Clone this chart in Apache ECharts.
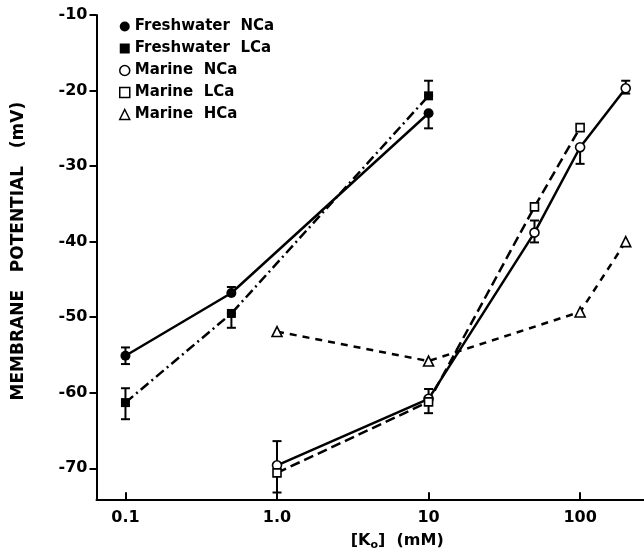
<!DOCTYPE html>
<html><head><meta charset="utf-8">
<script src="https://cdn.jsdelivr.net/npm/echarts@6/dist/echarts.min.js"></script>
<style>html,body{margin:0;padding:0;background:#fff}#c{width:644px;height:556px}</style>
</head><body><div id="c"></div>
<script>
const seriesNames = ['Freshwater  NCa', 'Freshwater  LCa', 'Marine  NCa', 'Marine  LCa', 'Marine  HCa'];
const fwNCa = [[0.1, -55.1], [0.5, -46.8], [10, -23.0]];
const fwLCa = [[0.1, -61.3], [0.5, -49.5], [10, -20.7]];
const mNCa = [[1, -69.6], [10, -60.8], [50, -38.8], [100, -27.5], [200, -19.7]];
const mLCa = [[1, -70.6], [10, -61.2], [50, -35.4], [100, -24.9]];
const mHCa = [[1, -51.9], [10, -55.8], [100, -49.3], [200, -40.0]];
// [x, end1, end2]
const errorBars = [
  [0.1, -54.0, -56.2], [0.5, -46.0, -46.8], [10, -23.0, -25.0],
  [0.1, -59.4, -63.5], [0.5, -49.5, -51.4], [10, -18.7, -20.7],
  [1, -66.4, -73.2], [10, -59.5, -62.7], [50, -37.2, -40.1], [100, -27.5, -29.7], [200, -18.7, -20.4]
];
const xTicks = [0.1, 1, 10, 100];
const xTickLabels = ['0.1', '1.0', '10', '100'];
const yTicks = [-70, -60, -50, -40, -30, -20, -10];

const FONT = 'DejaVu Sans';
const chart = echarts.init(document.getElementById('c'), null, {renderer: 'canvas'});
const filled = {color: '#000'};
const open = {color: '#fff', borderColor: '#000', borderWidth: 1.6};
function lineSeries(name, data, symbol, size, itemStyle, dash, z) {
  return {
    type: 'line', name: name, data: data, symbol: symbol, symbolSize: size,
    itemStyle: itemStyle, lineStyle: {color: '#000', width: 2.5, type: dash},
    emphasis: {disabled: true}, z: z, animation: false
  };
}
chart.setOption({
  animation: false,
  backgroundColor: '#fff',
  grid: {left: 96.5, top: 15, right: 0, bottom: 56.7},
  legend: {
    orient: 'vertical', left: 114, top: 14, itemWidth: 10, itemHeight: 10, itemGap: 7,
    textStyle: {fontFamily: FONT, fontSize: 15, fontWeight: 'bold', color: '#000', lineHeight: 15},
    selectedMode: false,
    data: [
      {name: seriesNames[0], icon: 'circle', itemStyle: {color: '#000'}},
      {name: seriesNames[1], icon: 'rect', itemStyle: {color: '#000'}},
      {name: seriesNames[2], icon: 'circle', itemStyle: {color: '#fff', borderColor: '#000', borderWidth: 1.5}},
      {name: seriesNames[3], icon: 'rect', itemStyle: {color: '#fff', borderColor: '#000', borderWidth: 1.5}},
      {name: seriesNames[4], icon: 'triangle', itemStyle: {color: '#fff', borderColor: '#000', borderWidth: 1.5}}
    ]
  },
  xAxis: {
    type: 'log', logBase: 10, min: 0.0644, max: 264,
    axisLine: {lineStyle: {color: '#000', width: 2}},
    axisTick: {show: true, inside: true, length: 7, customValues: xTicks, lineStyle: {color: '#000', width: 2}},
    axisLabel: {
      customValues: xTicks, margin: 11, color: '#000', fontFamily: FONT, fontSize: 16, fontWeight: 'bold',
      formatter: function (v) {
        for (let i = 0; i < xTicks.length; i++) {
          if (Math.abs(Math.log10(v) - Math.log10(xTicks[i])) < 0.01) return xTickLabels[i];
        }
        return '';
      }
    },
    splitLine: {show: false},
    name: '[K{s|o}]  (mM)', nameLocation: 'middle', nameGap: 33,
    nameTextStyle: {
      fontFamily: FONT, fontSize: 16, fontWeight: 'bold', color: '#000', padding: [0, 0, 0, 54],
      rich: {s: {fontFamily: FONT, fontSize: 11, fontWeight: 'bold', color: '#000', padding: [7, 0, 0, 0]}}
    }
  },
  yAxis: {
    type: 'value', min: -74.1, max: -10,
    axisLine: {show: true, lineStyle: {color: '#000', width: 2}},
    axisTick: {show: true, length: 7, customValues: yTicks, lineStyle: {color: '#000', width: 2}},
    axisLabel: {customValues: yTicks, margin: 9, color: '#000', fontFamily: FONT, fontSize: 16, fontWeight: 'bold'},
    splitLine: {show: false},
    name: 'MEMBRANE   POTENTIAL   (mV)', nameLocation: 'middle', nameGap: 69, nameRotate: 90,
    nameTextStyle: {fontFamily: FONT, fontSize: 17, fontWeight: 'bold', color: '#000', padding: [0, 0, 0, 12]}
  },
  series: [
    {
      type: 'custom', name: 'errors', data: errorBars, z: 1, silent: true,
      encode: {x: 0, y: [1, 2]},
      renderItem: function (params, api) {
        const x = api.value(0);
        const a = api.coord([x, api.value(1)]);
        const b = api.coord([x, api.value(2)]);
        const w = 4.5;
        const st = {stroke: '#000', lineWidth: 2};
        return {type: 'group', children: [
          {type: 'line', shape: {x1: a[0], y1: a[1], x2: b[0], y2: b[1]}, style: st},
          {type: 'line', shape: {x1: a[0] - w, y1: a[1], x2: a[0] + w, y2: a[1]}, style: st},
          {type: 'line', shape: {x1: b[0] - w, y1: b[1], x2: b[0] + w, y2: b[1]}, style: st}
        ]};
      }
    },
    lineSeries(seriesNames[0], fwNCa, 'circle', 10, filled, 'solid', 3),
    lineSeries(seriesNames[1], fwLCa, 'rect', 9, filled, [10, 4, 2, 4], 3),
    lineSeries(seriesNames[2], mNCa, 'circle', 9, open, 'solid', 3),
    lineSeries(seriesNames[3], mLCa, 'rect', 8, open, [10, 5], 3),
    lineSeries(seriesNames[4], mHCa, 'triangle', 10, open, [7, 6], 3)
  ]
});
</script>
</body></html>
